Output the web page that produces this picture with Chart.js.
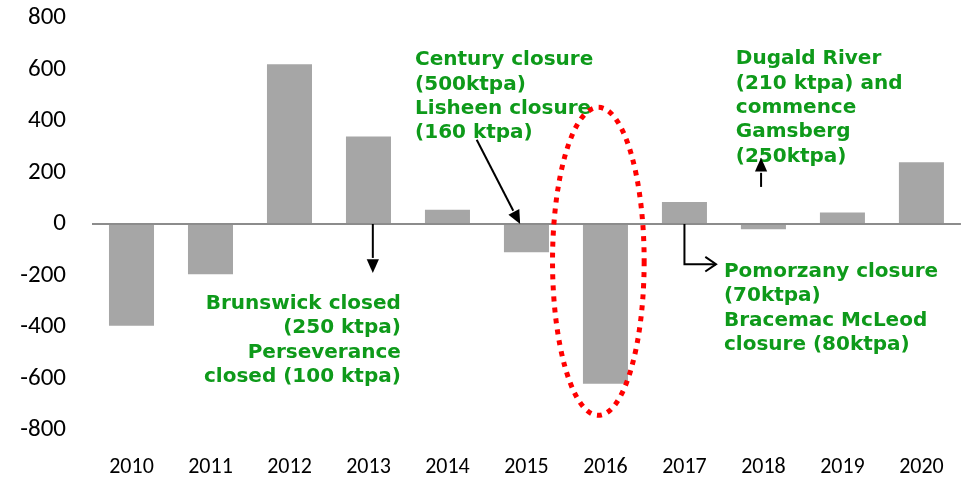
<!DOCTYPE html>
<html>
<head>
<meta charset="utf-8">
<script src="https://cdn.jsdelivr.net/npm/chart.js@4.4.1/dist/chart.umd.min.js"></script>
<style>
  html, body { margin: 0; padding: 0; background: #fff; }
  #wrap { width: 968px; height: 480px; }
</style>
</head>
<body>
<div id="wrap"><canvas id="zincChart" width="968" height="480"></canvas></div>
<script>
// dados do gráfico
const years = ["2010", "2011", "2012", "2013", "2014", "2015", "2016", "2017", "2018", "2019", "2020"];
const supplyChange = [-395, -195, 620, 340, 55, -110, -620, 85, -20, 45, 240];
const yTicks = [800, 600, 400, 200, 0, -200, -400, -600, -800];

// anotações (posição em índice de categoria / valor)
const notes = [
  { lines: ["Century closure", "(500ktpa)", "Lisheen closure", "(160 ktpa)"], x: 3.59, y: 636, align: "left" },
  { lines: ["Brunswick closed", "(250 ktpa)", "Perseverance", "closed (100 ktpa)"], x: 3.41, y: -310, align: "right" },
  { lines: ["Dugald River", "(210 ktpa) and", "commence", "Gamsberg", "(250ktpa)"], x: 7.65, y: 640, align: "left" },
  { lines: ["Pomorzany closure", "(70ktpa)", "Bracemac McLeod", "closure (80ktpa)"], x: 7.5, y: -186, align: "left" }
];
const arrows = [
  { pts: [[4.37, 327], [4.92, 0]], head: "solid" },
  { pts: [[3.055, 0], [3.055, -190]], head: "solid" },
  { pts: [[7.97, 144], [7.97, 257]], head: "solid" },
  { pts: [[7.0, 0], [7.0, -156], [7.4, -156]], head: "open" }
];
const highlight = { x: 5.91, y: -145, rx: 0.58, ry: 598 };

const noteColor = "#0e9a1a";

const annotationPlugin = {
  id: "annotations",
  afterDatasetsDraw(chart) {
    const ctx = chart.ctx;
    const xs = chart.scales.x, ys = chart.scales.y;
    ctx.save();

    // textos verdes
    ctx.fillStyle = noteColor;
    ctx.font = "bold 20px 'DejaVu Sans', Verdana, sans-serif";
    ctx.textBaseline = "middle";
    notes.forEach(n => {
      ctx.textAlign = n.align;
      const px = xs.getPixelForValue(n.x);
      const py = ys.getPixelForValue(n.y);
      n.lines.forEach((t, i) => ctx.fillText(t, px, py + i * 24.3));
    });

    // setas
    ctx.strokeStyle = "#000";
    ctx.fillStyle = "#000";
    ctx.lineWidth = 2;
    arrows.forEach(a => {
      const p = a.pts.map(q => [xs.getPixelForValue(q[0]), ys.getPixelForValue(q[1])]);
      const last = p[p.length - 1], prev = p[p.length - 2];
      const ang = Math.atan2(last[1] - prev[1], last[0] - prev[0]);
      const len = a.head === "solid" ? 15 : 13;
      ctx.beginPath();
      ctx.moveTo(p[0][0], p[0][1]);
      for (let i = 1; i < p.length - 1; i++) ctx.lineTo(p[i][0], p[i][1]);
      if (a.head === "solid") {
        ctx.lineTo(last[0] - Math.cos(ang) * len, last[1] - Math.sin(ang) * len);
      } else {
        ctx.lineTo(last[0], last[1]);
      }
      ctx.stroke();
      const w = a.head === "solid" ? 0.42 : 0.6;
      ctx.beginPath();
      ctx.moveTo(last[0] - Math.cos(ang - w) * len, last[1] - Math.sin(ang - w) * len);
      ctx.lineTo(last[0], last[1]);
      ctx.lineTo(last[0] - Math.cos(ang + w) * len, last[1] - Math.sin(ang + w) * len);
      if (a.head === "solid") { ctx.closePath(); ctx.fill(); } else { ctx.stroke(); }
    });

    // elipse pontilhada vermelha
    const cx = xs.getPixelForValue(highlight.x);
    const cy = ys.getPixelForValue(highlight.y);
    const rx = xs.getPixelForValue(highlight.x + highlight.rx) - cx;
    const ry = ys.getPixelForValue(highlight.y - highlight.ry) - cy;
    ctx.strokeStyle = "#ff0000";
    ctx.lineWidth = 5;
    ctx.setLineDash([5, 6]);
    ctx.beginPath();
    ctx.ellipse(cx, cy, Math.abs(rx), Math.abs(ry), 0, 0, Math.PI * 2);
    ctx.stroke();
    ctx.restore();
  }
};

function createChart() {
  const ctx = document.getElementById("zincChart").getContext("2d");
  window.zincChart = new Chart(ctx, {
    type: "bar",
    data: {
      labels: years,
      datasets: [{
        data: supplyChange,
        backgroundColor: "#a6a6a6",
        borderWidth: 0,
        barPercentage: 0.57,
        categoryPercentage: 1
      }]
    },
    options: {
      responsive: false,
      animation: false,
      layout: { padding: { top: 0, right: 6, bottom: 0, left: 0 } },
      plugins: { legend: { display: false }, tooltip: { enabled: false } },
      scales: {
        x: {
          grid: { display: false, drawTicks: false },
          border: { display: false },
          ticks: { color: "#000", font: { family: "Carlito, Lato, sans-serif", size: 22 }, padding: 24, maxRotation: 0 },
          afterFit: s => { s.height = 50; }
        },
        y: {
          min: -800,
          max: 800,
          afterBuildTicks: s => { s.ticks = yTicks.map(v => ({ value: v })); },
          grid: {
            drawTicks: false,
            color: c => c.tick && c.tick.value === 0 ? "#8c8c8c" : "rgba(0,0,0,0)",
            lineWidth: 2
          },
          border: { display: false },
          ticks: { color: "#000", font: { family: "Carlito, Lato, sans-serif", size: 25, lineHeight: 1 }, padding: 26 },
          afterFit: s => { s.width = 92; s.paddingTop = 18; }
        }
      }
    },
    plugins: [annotationPlugin]
  });
}

window.onload = createChart;
</script>
</body>
</html>
